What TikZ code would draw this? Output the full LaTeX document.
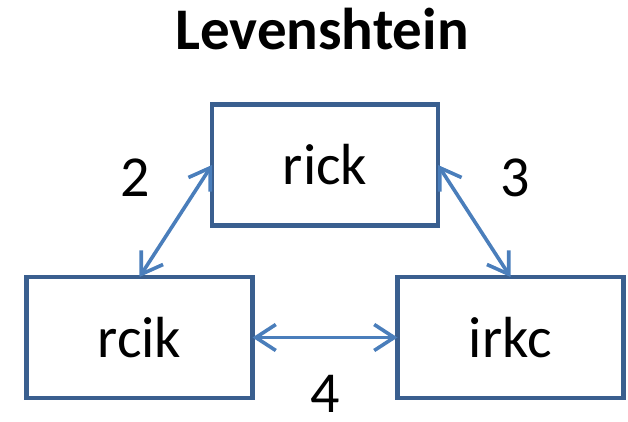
\documentclass[tikz,border=0pt]{standalone}
\usepackage{fontspec}
\setmainfont{Carlito}
\usetikzlibrary{arrows.meta}
\definecolor{boxline}{HTML}{3A5F8F}
\definecolor{linkline}{HTML}{4A7EBB}
\tikzset{
  word/.style={draw=boxline, line width=4.8pt, minimum width=226pt, minimum height=121pt,
    inner sep=0pt, outer sep=0pt, font=\fontsize{58}{60}\selectfont},
  dist/.style={font=\fontsize{58}{60}\selectfont, inner sep=0pt},
  link/.style={draw=linkline, line width=3.6pt,
    {Straight Barb[length=20pt,width=26pt,line width=3.6pt]}-{Straight Barb[length=20pt,width=26pt,line width=3.6pt]}}
}
\begin{document}
\begin{tikzpicture}[x=1pt,y=1pt]
  \useasboundingbox (0,0) rectangle (628,421);
  % title
  \node[anchor=base, font=\fontsize{59}{61}\selectfont\bfseries, inner sep=0pt] (title) at (322,371) {Levenshtein};
  % the three words
  \node[word] (rick) at (325,256) {rick};
  \node[word] (rcik) at (139.5,83.5) {rcik};
  \node[word] (irkc) at (510.5,83.5) {irkc};
  % edit distances
  \draw[link] (rick.west) -- (rcik.north);
  \draw[link] (rick.east) -- (irkc.north);
  \draw[link] (rcik.east) -- (irkc.west);
  \node[dist] (d2) at (135,243) {2};
  \node[dist] (d3) at (515,243) {3};
  \node[dist] (d4) at (325,27) {4};
\end{tikzpicture}
\end{document}
